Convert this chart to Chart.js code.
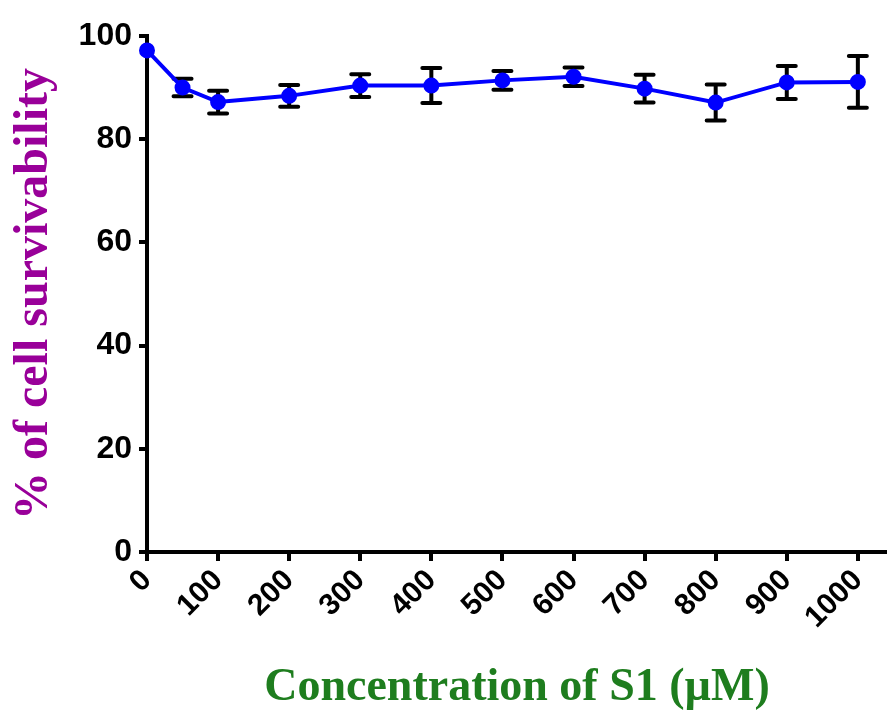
<!DOCTYPE html>
<html>
<head>
<meta charset="utf-8">
<script src="https://cdn.jsdelivr.net/npm/chart.js@4/dist/chart.umd.min.js"></script>
<style>
  html, body { margin: 0; padding: 0; background: #fff; }
  #wrap { width: 887px; height: 711px; }
</style>
</head>
<body>
<div id="wrap"><canvas id="chart" width="887" height="711"></canvas></div>
<script>
// concentrations (uM) and mean survivability with SD
const concentrations = [0, 50, 100, 200, 300, 400, 500, 600, 700, 800, 900, 1000];
const survivability = [97.2, 90.0, 87.2, 88.4, 90.4, 90.4, 91.4, 92.1, 89.8, 87.1, 91.0, 91.1];
const sdValues = [0, 1.7, 2.2, 2.1, 2.2, 3.4, 1.8, 1.8, 2.7, 3.5, 3.2, 5.0];
const xTickValues = [0, 100, 200, 300, 400, 500, 600, 700, 800, 900, 1000];
const yTickValues = [0, 20, 40, 60, 80, 100];

const points = concentrations.map((c, i) => ({ x: c, y: survivability[i] }));

// draws the +/- SD whiskers behind the line
const errorBars = {
  id: "errorBars",
  beforeDatasetsDraw(chart) {
    const { ctx, scales } = chart;
    ctx.save();
    ctx.strokeStyle = "#000";
    ctx.lineWidth = 4;
    ctx.lineCap = "round";
    concentrations.forEach((c, i) => {
      if (!sdValues[i]) return;
      const x = scales.x.getPixelForValue(c);
      const top = scales.y.getPixelForValue(survivability[i] + sdValues[i]);
      const bot = scales.y.getPixelForValue(survivability[i] - sdValues[i]);
      ctx.beginPath();
      ctx.moveTo(x, top); ctx.lineTo(x, bot);
      ctx.moveTo(x - 9, top); ctx.lineTo(x + 9, top);
      ctx.moveTo(x - 9, bot); ctx.lineTo(x + 9, bot);
      ctx.stroke();
    });
    ctx.restore();
  }
};

const tickFont = { family: "'Liberation Sans', Arial, sans-serif", size: 32, weight: "bold" };
const serif = "'Liberation Serif', 'Times New Roman', serif";

new Chart(document.getElementById("chart"), {
  type: "line",
  data: {
    datasets: [{
      data: points,
      borderColor: "#0000ff",
      backgroundColor: "#0000ff",
      borderWidth: 4,
      pointRadius: 6,
      pointHoverRadius: 6,
      tension: 0,
      clip: false
    }]
  },
  options: {
    responsive: false,
    animation: false,
    layout: { autoPadding: false, padding: { left: 6, top: 36, right: 0, bottom: 0 } },
    plugins: { legend: { display: false }, tooltip: { enabled: false } },
    scales: {
      x: {
        type: "linear",
        min: 0,
        max: 1041,
        afterBuildTicks(scale) { scale.ticks = xTickValues.map(v => ({ value: v })); },
        afterFit(scale) { scale.height = 159; scale.paddingRight = 0; },
        grid: { drawOnChartArea: false, color: "#000", lineWidth: 4, tickLength: 9 },
        border: { color: "#000", width: 4 },
        ticks: {
          color: "#000",
          font: { ...tickFont, size: 30 },
          minRotation: 45,
          maxRotation: 45,
          padding: 2,
          callback: v => String(v)
        },
        title: {
          display: true,
          text: "Concentration of S1 (\u00b5M)",
          color: "#1e7d1e",
          font: { family: serif, size: 46, weight: "bold", lineHeight: 1.0 },
          padding: { top: 0, bottom: 0 }
        }
      },
      y: {
        min: 0,
        max: 100,
        afterBuildTicks(scale) { scale.ticks = yTickValues.map(v => ({ value: v })); },
        afterFit(scale) { scale.width = 141; },
        grid: { drawOnChartArea: false, color: "#000", lineWidth: 4, tickLength: 8 },
        border: { color: "#000", width: 4 },
        ticks: { color: "#000", font: tickFont, padding: 7 },
        title: {
          display: true,
          text: "% of cell survivability",
          color: "#990099",
          font: { family: serif, size: 48, weight: "bold", lineHeight: 1.2 },
          padding: { top: 0, bottom: 0 }
        }
      }
    }
  },
  plugins: [errorBars]
});
</script>
</body>
</html>
